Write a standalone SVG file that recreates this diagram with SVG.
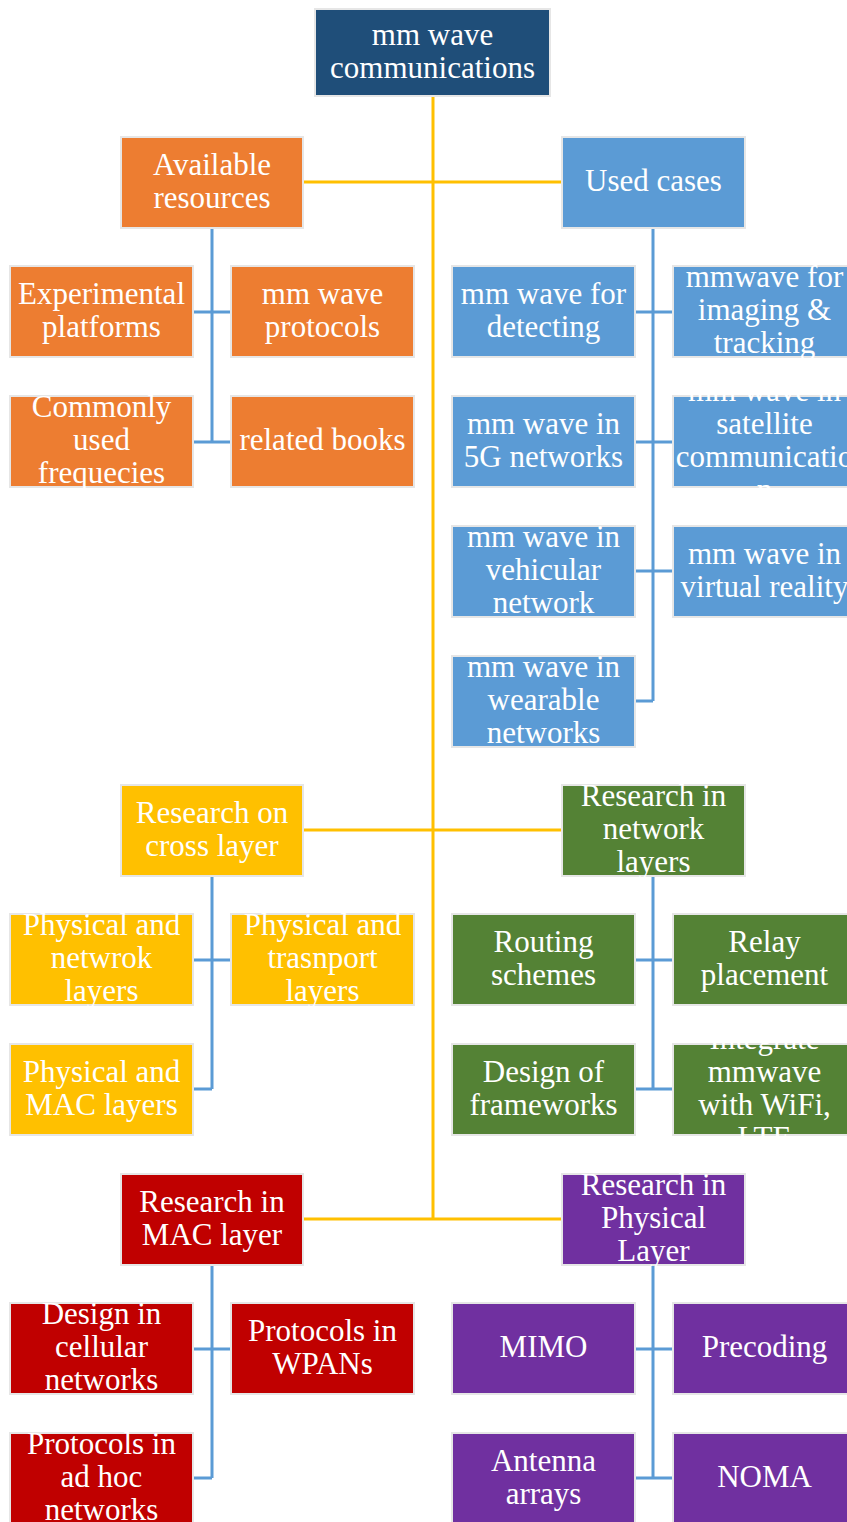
<svg xmlns="http://www.w3.org/2000/svg" width="847" height="1522" viewBox="0 0 847 1522">
<style>
.bx{stroke:#e6e6e6;stroke-width:2}
.t{font-family:"Liberation Serif","Times New Roman",serif;font-size:31px;fill:#ffffff;text-anchor:middle}
.navy{fill:#1f4e79}.org{fill:#ed7d31}.blu{fill:#5b9bd5}.yel{fill:#ffc000}.grn{fill:#548235}.red{fill:#c00000}.pur{fill:#7030a0}
.trunk{stroke:#ffc000;stroke-width:3;fill:none}
.br{stroke:#5b9bd5;stroke-width:3;fill:none}
</style>
<defs>
<clipPath id="c0"><rect x="314" y="8" width="237" height="89"/></clipPath>
<clipPath id="cL1"><rect x="120" y="136" width="184" height="93"/></clipPath>
<clipPath id="cR1"><rect x="561" y="136" width="185" height="93"/></clipPath>
<clipPath id="cL2"><rect x="120" y="784" width="184" height="93"/></clipPath>
<clipPath id="cR2"><rect x="561" y="784" width="185" height="93"/></clipPath>
<clipPath id="cL3"><rect x="120" y="1173" width="184" height="93"/></clipPath>
<clipPath id="cR3"><rect x="561" y="1173" width="185" height="93"/></clipPath>
<clipPath id="a1"><rect x="9" y="265" width="185" height="93"/></clipPath>
<clipPath id="a2"><rect x="230" y="265" width="185" height="93"/></clipPath>
<clipPath id="a3"><rect x="9" y="395" width="185" height="93"/></clipPath>
<clipPath id="a4"><rect x="230" y="395" width="185" height="93"/></clipPath>
<clipPath id="b1"><rect x="451" y="265" width="185" height="93"/></clipPath>
<clipPath id="b2"><rect x="672" y="265" width="185" height="93"/></clipPath>
<clipPath id="b3"><rect x="451" y="395" width="185" height="93"/></clipPath>
<clipPath id="b4"><rect x="672" y="395" width="185" height="93"/></clipPath>
<clipPath id="b5"><rect x="451" y="525" width="185" height="93"/></clipPath>
<clipPath id="b6"><rect x="672" y="525" width="185" height="93"/></clipPath>
<clipPath id="b7"><rect x="451" y="655" width="185" height="93"/></clipPath>
<clipPath id="d1"><rect x="9" y="913" width="185" height="93"/></clipPath>
<clipPath id="d2"><rect x="230" y="913" width="185" height="93"/></clipPath>
<clipPath id="d3"><rect x="9" y="1043" width="185" height="93"/></clipPath>
<clipPath id="e1"><rect x="451" y="913" width="185" height="93"/></clipPath>
<clipPath id="e2"><rect x="672" y="913" width="185" height="93"/></clipPath>
<clipPath id="e3"><rect x="451" y="1043" width="185" height="93"/></clipPath>
<clipPath id="e4"><rect x="672" y="1043" width="185" height="93"/></clipPath>
<clipPath id="f1"><rect x="9" y="1302" width="185" height="93"/></clipPath>
<clipPath id="f2"><rect x="230" y="1302" width="185" height="93"/></clipPath>
<clipPath id="f3"><rect x="9" y="1432" width="185" height="93"/></clipPath>
<clipPath id="g1"><rect x="451" y="1302" width="185" height="93"/></clipPath>
<clipPath id="g2"><rect x="672" y="1302" width="185" height="93"/></clipPath>
<clipPath id="g3"><rect x="451" y="1432" width="185" height="93"/></clipPath>
<clipPath id="g4"><rect x="672" y="1432" width="185" height="93"/></clipPath>
</defs>
<rect width="847" height="1522" fill="#ffffff"/>

<g id="connectors">
<path class="trunk" d="M433 97V1219M304 182H561M304 830H561M304 1219H561"/>
<path class="br" d="M212 229V442M194 312H230M194 442H230"/>
<path class="br" d="M653 229V701M636 312H672M636 442H672M636 571H672M636 701H653"/>
<path class="br" d="M212 877V1089M194 960H230M194 1089H212"/>
<path class="br" d="M653 877V1089M636 960H672M636 1089H672"/>
<path class="br" d="M212 1266V1478M194 1349H230M194 1478H212"/>
<path class="br" d="M653 1266V1478M636 1349H672M636 1478H672"/>
</g>

<g id="n-root"><rect class="bx navy" x="315" y="9" width="235" height="87"/>
<text class="t" clip-path="url(#c0)"><tspan x="432.5" y="45">mm wave</tspan><tspan x="432.5" y="78">communications</tspan></text></g>

<g id="n-available"><rect class="bx org" x="121" y="137" width="182" height="91"/>
<text class="t" clip-path="url(#cL1)"><tspan x="212" y="174.5">Available</tspan><tspan x="212" y="207.5">resources</tspan></text></g>
<g id="n-experimental"><rect class="bx org" x="10" y="266" width="183" height="91"/>
<text class="t" clip-path="url(#a1)"><tspan x="101.5" y="303.5">Experimental</tspan><tspan x="101.5" y="336.5">platforms</tspan></text></g>
<g id="n-protocols"><rect class="bx org" x="231" y="266" width="183" height="91"/>
<text class="t" clip-path="url(#a2)"><tspan x="322.5" y="303.5">mm wave</tspan><tspan x="322.5" y="336.5">protocols</tspan></text></g>
<g id="n-frequencies"><rect class="bx org" x="10" y="396" width="183" height="91"/>
<text class="t" clip-path="url(#a3)"><tspan x="101.5" y="417">Commonly</tspan><tspan x="101.5" y="450">used</tspan><tspan x="101.5" y="483">frequecies</tspan></text></g>
<g id="n-books"><rect class="bx org" x="231" y="396" width="183" height="91"/>
<text class="t" clip-path="url(#a4)"><tspan x="322.5" y="450">related books</tspan></text></g>

<g id="n-usedcases"><rect class="bx blu" x="562" y="137" width="183" height="91"/>
<text class="t" clip-path="url(#cR1)"><tspan x="653.5" y="191">Used cases</tspan></text></g>
<g id="n-detecting"><rect class="bx blu" x="452" y="266" width="183" height="91"/>
<text class="t" clip-path="url(#b1)"><tspan x="543.5" y="303.5">mm wave for</tspan><tspan x="543.5" y="336.5">detecting</tspan></text></g>
<g id="n-imaging"><rect class="bx blu" x="673" y="266" width="183" height="91"/>
<text class="t" clip-path="url(#b2)"><tspan x="764.5" y="287">mmwave for</tspan><tspan x="764.5" y="320">imaging &amp;</tspan><tspan x="764.5" y="353">tracking</tspan></text></g>
<g id="n-5g"><rect class="bx blu" x="452" y="396" width="183" height="91"/>
<text class="t" clip-path="url(#b3)"><tspan x="543.5" y="433.5">mm wave in</tspan><tspan x="543.5" y="466.5">5G networks</tspan></text></g>
<g id="n-satellite"><rect class="bx blu" x="673" y="396" width="183" height="91"/>
<text class="t" clip-path="url(#b4)"><tspan x="764.5" y="400.5">mm wave in</tspan><tspan x="764.5" y="433.5">satellite</tspan><tspan x="764.5" y="466.5">communicatio</tspan><tspan x="764.5" y="499.5">n</tspan></text></g>
<g id="n-vehicular"><rect class="bx blu" x="452" y="526" width="183" height="91"/>
<text class="t" clip-path="url(#b5)"><tspan x="543.5" y="547">mm wave in</tspan><tspan x="543.5" y="580">vehicular</tspan><tspan x="543.5" y="613">network</tspan></text></g>
<g id="n-vr"><rect class="bx blu" x="673" y="526" width="183" height="91"/>
<text class="t" clip-path="url(#b6)"><tspan x="764.5" y="563.5">mm wave in</tspan><tspan x="764.5" y="596.5">virtual reality</tspan></text></g>
<g id="n-wearable"><rect class="bx blu" x="452" y="656" width="183" height="91"/>
<text class="t" clip-path="url(#b7)"><tspan x="543.5" y="677">mm wave in</tspan><tspan x="543.5" y="710">wearable</tspan><tspan x="543.5" y="743">networks</tspan></text></g>

<g id="n-crosslayer"><rect class="bx yel" x="121" y="785" width="182" height="91"/>
<text class="t" clip-path="url(#cL2)"><tspan x="212" y="822.5">Research on</tspan><tspan x="212" y="855.5">cross layer</tspan></text></g>
<g id="n-phynet"><rect class="bx yel" x="10" y="914" width="183" height="91"/>
<text class="t" clip-path="url(#d1)"><tspan x="101.5" y="935">Physical and</tspan><tspan x="101.5" y="968">netwrok</tspan><tspan x="101.5" y="1001">layers</tspan></text></g>
<g id="n-phytrans"><rect class="bx yel" x="231" y="914" width="183" height="91"/>
<text class="t" clip-path="url(#d2)"><tspan x="322.5" y="935">Physical and</tspan><tspan x="322.5" y="968">trasnport</tspan><tspan x="322.5" y="1001">layers</tspan></text></g>
<g id="n-phymac"><rect class="bx yel" x="10" y="1044" width="183" height="91"/>
<text class="t" clip-path="url(#d3)"><tspan x="101.5" y="1081.5">Physical and</tspan><tspan x="101.5" y="1114.5">MAC layers</tspan></text></g>

<g id="n-netlayers"><rect class="bx grn" x="562" y="785" width="183" height="91"/>
<text class="t" clip-path="url(#cR2)"><tspan x="653.5" y="806">Research in</tspan><tspan x="653.5" y="839">network</tspan><tspan x="653.5" y="872">layers</tspan></text></g>
<g id="n-routing"><rect class="bx grn" x="452" y="914" width="183" height="91"/>
<text class="t" clip-path="url(#e1)"><tspan x="543.5" y="951.5">Routing</tspan><tspan x="543.5" y="984.5">schemes</tspan></text></g>
<g id="n-relay"><rect class="bx grn" x="673" y="914" width="183" height="91"/>
<text class="t" clip-path="url(#e2)"><tspan x="764.5" y="951.5">Relay</tspan><tspan x="764.5" y="984.5">placement</tspan></text></g>
<g id="n-frameworks"><rect class="bx grn" x="452" y="1044" width="183" height="91"/>
<text class="t" clip-path="url(#e3)"><tspan x="543.5" y="1081.5">Design of</tspan><tspan x="543.5" y="1114.5">frameworks</tspan></text></g>
<g id="n-integrate"><rect class="bx grn" x="673" y="1044" width="183" height="91"/>
<text class="t" clip-path="url(#e4)"><tspan x="764.5" y="1048.5">Integrate</tspan><tspan x="764.5" y="1081.5">mmwave</tspan><tspan x="764.5" y="1114.5">with WiFi,</tspan><tspan x="764.5" y="1147.5">LTE</tspan></text></g>

<g id="n-maclayer"><rect class="bx red" x="121" y="1174" width="182" height="91"/>
<text class="t" clip-path="url(#cL3)"><tspan x="212" y="1211.5">Research in</tspan><tspan x="212" y="1244.5">MAC layer</tspan></text></g>
<g id="n-cellular"><rect class="bx red" x="10" y="1303" width="183" height="91"/>
<text class="t" clip-path="url(#f1)"><tspan x="101.5" y="1324">Design in</tspan><tspan x="101.5" y="1357">cellular</tspan><tspan x="101.5" y="1390">networks</tspan></text></g>
<g id="n-wpans"><rect class="bx red" x="231" y="1303" width="183" height="91"/>
<text class="t" clip-path="url(#f2)"><tspan x="322.5" y="1340.5">Protocols in</tspan><tspan x="322.5" y="1373.5">WPANs</tspan></text></g>
<g id="n-adhoc"><rect class="bx red" x="10" y="1433" width="183" height="91"/>
<text class="t" clip-path="url(#f3)"><tspan x="101.5" y="1454">Protocols in</tspan><tspan x="101.5" y="1487">ad hoc</tspan><tspan x="101.5" y="1520">networks</tspan></text></g>

<g id="n-phylayer"><rect class="bx pur" x="562" y="1174" width="183" height="91"/>
<text class="t" clip-path="url(#cR3)"><tspan x="653.5" y="1195">Research in</tspan><tspan x="653.5" y="1228">Physical</tspan><tspan x="653.5" y="1261">Layer</tspan></text></g>
<g id="n-mimo"><rect class="bx pur" x="452" y="1303" width="183" height="91"/>
<text class="t" clip-path="url(#g1)"><tspan x="543.5" y="1357">MIMO</tspan></text></g>
<g id="n-precoding"><rect class="bx pur" x="673" y="1303" width="183" height="91"/>
<text class="t" clip-path="url(#g2)"><tspan x="764.5" y="1357">Precoding</tspan></text></g>
<g id="n-antenna"><rect class="bx pur" x="452" y="1433" width="183" height="91"/>
<text class="t" clip-path="url(#g3)"><tspan x="543.5" y="1470.5">Antenna</tspan><tspan x="543.5" y="1503.5">arrays</tspan></text></g>
<g id="n-noma"><rect class="bx pur" x="673" y="1433" width="183" height="91"/>
<text class="t" clip-path="url(#g4)"><tspan x="764.5" y="1487">NOMA</tspan></text></g>
</svg>
